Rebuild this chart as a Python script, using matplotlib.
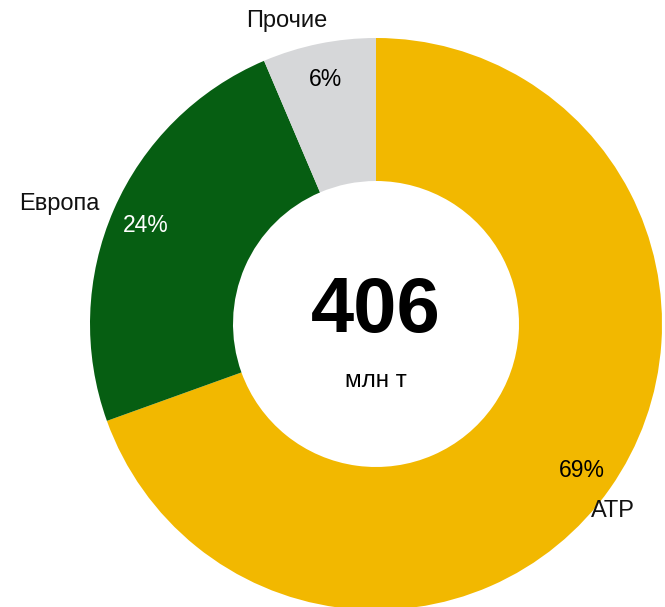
import matplotlib
matplotlib.use("Agg")
import matplotlib.pyplot as plt
import numpy as np

# data
regions = ["АТР", "Европа", "Прочие"]
shares = [69.5, 24.1, 6.4]
share_labels = ["69%", "24%", "6%"]
colors = ["#F2B800", "#065E12", "#D6D7D9"]
pct_colors = ["black", "white", "black"]
total = "406"
unit = "млн т"

W, H = 665, 607
fig = plt.figure(figsize=(W / 100, H / 100), dpi=100)
ax = fig.add_axes([0, 0, 1, 1])

cx, cy, R = 376, H - 324, 286

wedges, _ = ax.pie(shares, colors=colors, startangle=90, counterclock=False,
                   center=(cx, cy), radius=R, frame=True,
                   wedgeprops=dict(width=R * 0.5, linewidth=0))
ax.set_xlim(0, W)
ax.set_ylim(0, H)
ax.set_aspect("equal")
ax.axis("off")

FONT = "Liberation Sans"

for w, lab, c in zip(wedges, share_labels, pct_colors):
    ang = np.deg2rad((w.theta1 + w.theta2) / 2)
    r = R * 0.88
    ax.text(cx + r * np.cos(ang), cy + r * np.sin(ang) - 2, lab, color=c,
            ha="center", va="center", fontsize=16.5, family=FONT)

# category labels beside the ring (x centre, baseline from top)
label_pos = {"АТР": (613, 517), "Европа": (59, 210), "Прочие": (287, 27)}
for name in regions:
    x, y = label_pos[name]
    ax.text(x, H - y, name, ha="center", va="baseline", fontsize=17,
            family=FONT, color="#111111")

ax.text(cx, H - 332, total, ha="center", va="baseline", fontsize=56,
        fontweight="bold", family=FONT)
ax.text(cx, H - 387, unit, ha="center", va="baseline", fontsize=17.5,
        family=FONT)

fig.savefig("out.png", dpi=100)
